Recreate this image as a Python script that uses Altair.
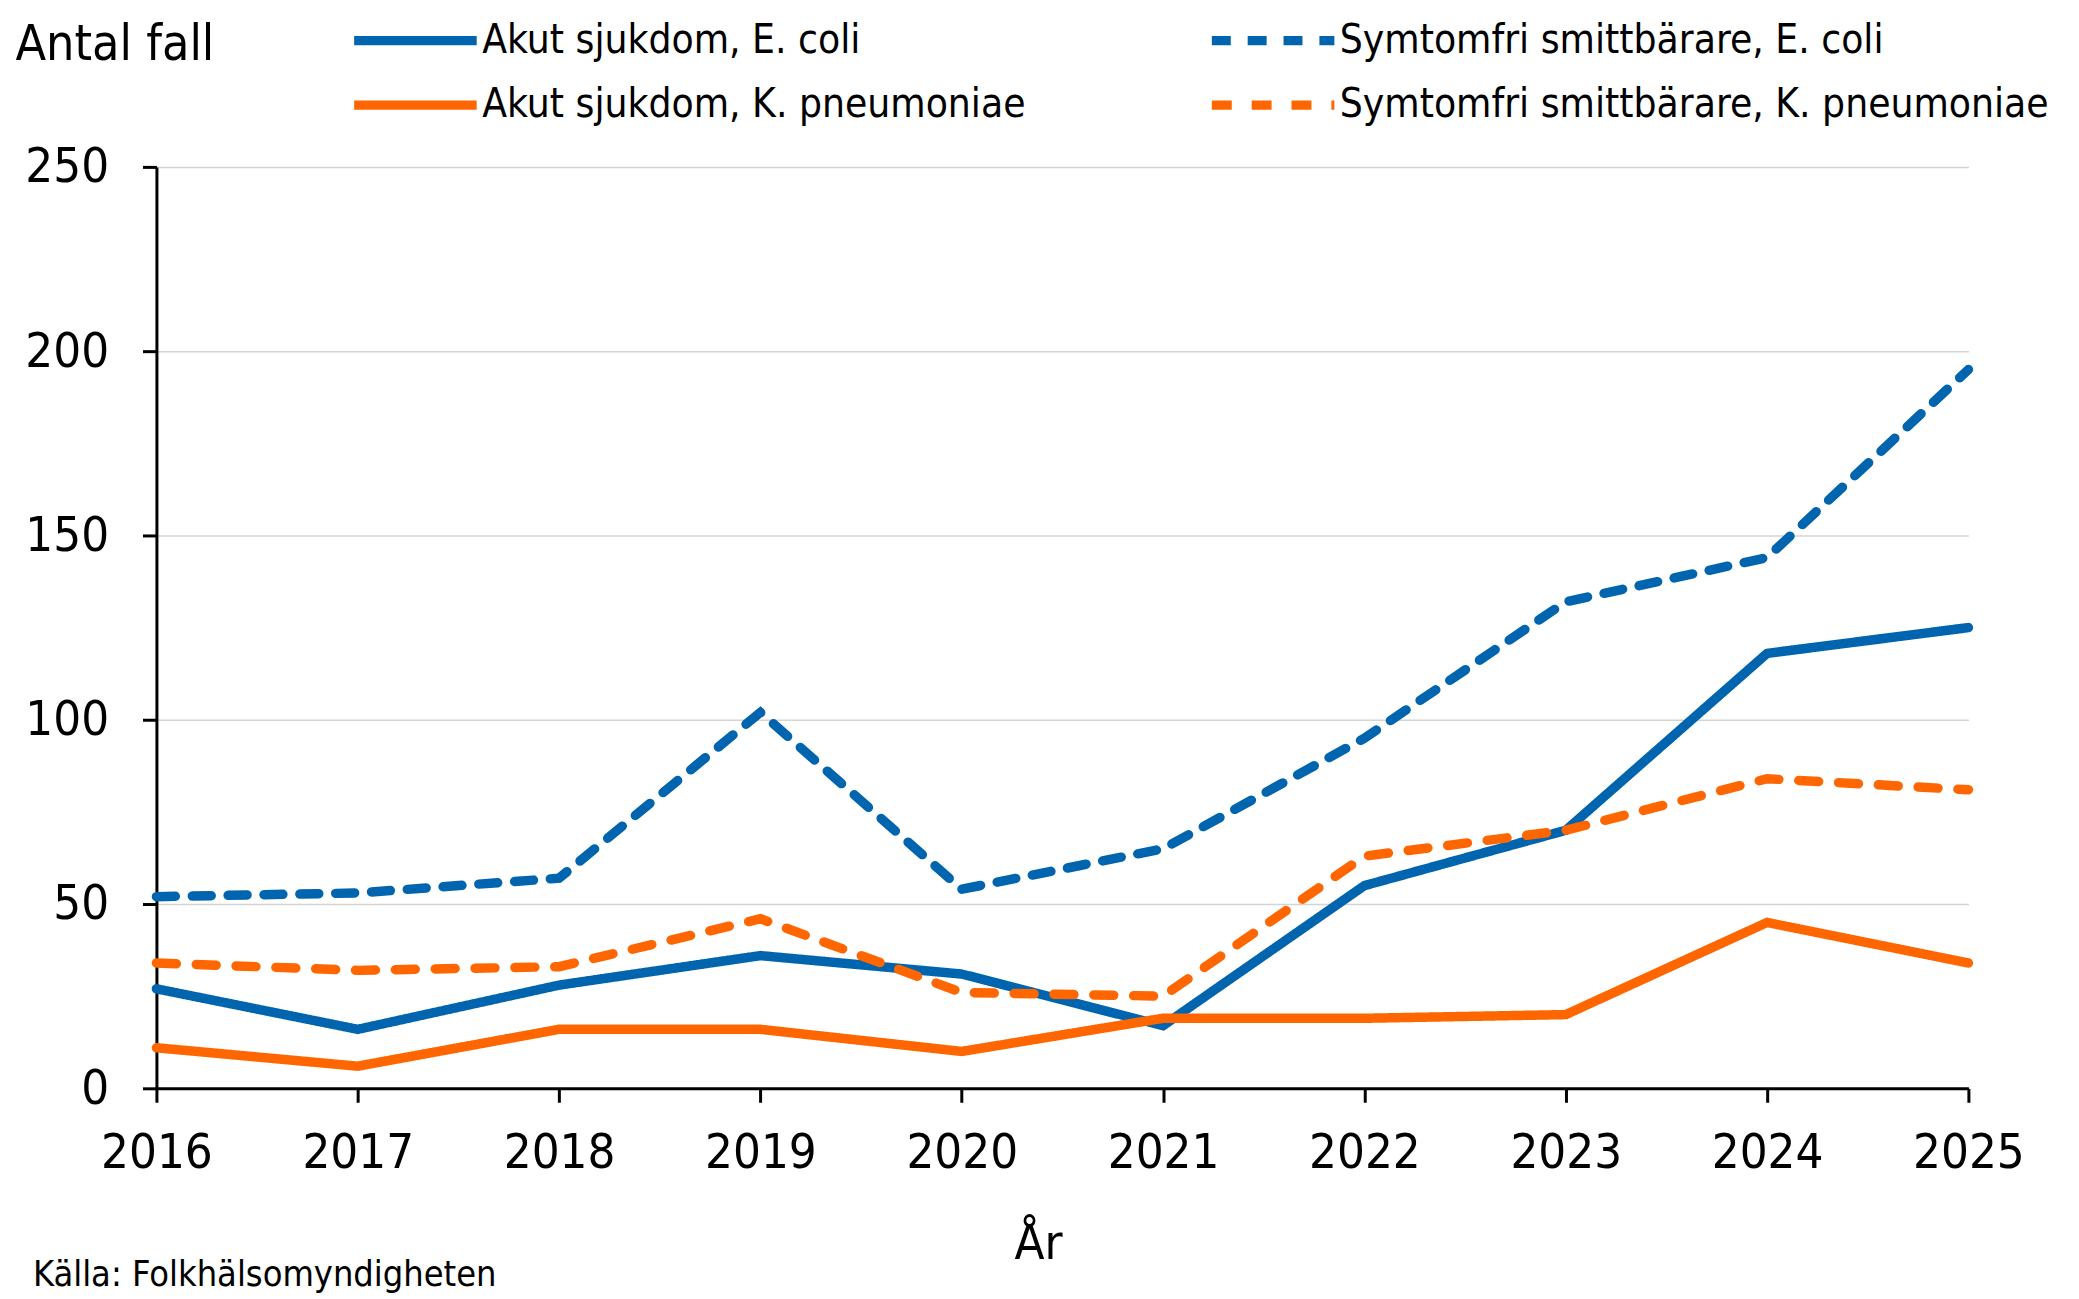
import altair as alt
import pandas as pd

years = [2016, 2017, 2018, 2019, 2020, 2021, 2022, 2023, 2024, 2025]
# legend order (column-major): col 1 = Akut, col 2 = Symtomfri
series_names = [
    "Akut sjukdom, E. coli",
    "Akut sjukdom, K. pneumoniae",
    "Symtomfri smittbärare, E. coli",
    "Symtomfri smittbärare, K. pneumoniae",
]
akut_ecoli = [27, 16, 28, 36, 31, 17, 55, 70, 118, 125]
akut_kpn = [11, 6, 16, 16, 10, 19, 19, 20, 45, 34]
symtomfri_ecoli = [52, 53, 57, 102, 54, 65, 95, 132, 144, 195]
symtomfri_kpn = [34, 32, 33, 46, 26, 25, 63, 70, 84, 81]
y_ticks = [0, 50, 100, 150, 200, 250]
source_text = "Källa: Folkhälsomyndigheten"

values = [akut_ecoli, akut_kpn, symtomfri_ecoli, symtomfri_kpn]
rows = []
for name, vals in zip(series_names, values):
    for yr, v in zip(years, vals):
        rows.append({"År": yr, "Antal fall": v, "Serie": name})
df = pd.DataFrame(rows)

BLUE = "#0064AF"
ORANGE = "#FF6600"
FONT = "DejaVu Sans Condensed, DejaVu Sans"

W, H = 1819, 925


def make_legend():
    return alt.Legend(
        title=None,
        orient="none",
        direction="vertical",
        legendX=216,
        legendY=-171,
        columns=2,
        columnPadding=167,
        rowPadding=0,
        padding=0,
        symbolType="M-1.567,0H1.567",
        symbolSize=6162,
        symbolStrokeWidth=9.5,
        symbolFillColor="transparent",
        labelFontSize=40.5,
        labelColor="black",
        labelOffset=23,
        labelLimit=1000,
    )


lines = alt.Chart(df).mark_line(strokeWidth=9.5, strokeCap="round").encode(
    x=alt.X(
        "År:Q",
        scale=alt.Scale(domain=[years[0], years[-1]], nice=False, zero=False),
        axis=alt.Axis(
            values=years,
            format="d",
            grid=False,
            labelFlush=False,
            domainColor="black",
            domainWidth=3,
            tickColor="black",
            tickWidth=3,
            tickSize=14,
            labelFontSize=49,
            labelPadding=26,
            labelColor="black",
            title="År",
            titleFontSize=49,
            titleFontWeight="normal",
            titleColor="black",
            titleX=885,
            titleY=156,
            titleAlign="center",
            titleBaseline="middle",
        ),
    ),
    y=alt.Y(
        "Antal fall:Q",
        scale=alt.Scale(domain=[0, 250], nice=False),
        axis=alt.Axis(
            values=y_ticks,
            grid=True,
            gridColor="#d4d4d4",
            gridWidth=1.5,
            domainColor="black",
            domainWidth=3,
            tickColor="black",
            tickWidth=3,
            tickSize=14,
            labelFontSize=49,
            labelPadding=34,
            labelColor="black",
            title="Antal fall",
            titleFontSize=50,
            titleFontWeight="normal",
            titleColor="black",
            titleAngle=0,
            titleX=-142,
            titleY=-108,
            titleAlign="left",
            titleBaseline="alphabetic",
        ),
    ),
    color=alt.Color(
        "Serie:N",
        scale=alt.Scale(domain=series_names, range=[BLUE, ORANGE, BLUE, ORANGE]),
        legend=make_legend(),
    ),
    strokeDash=alt.StrokeDash(
        "Serie:N",
        scale=alt.Scale(domain=series_names, range=[[1, 0], [1, 0], [19, 17], [20, 20]]),
        legend=make_legend(),
    ),
)

source = alt.Chart(pd.DataFrame({"t": [source_text]})).mark_text(
    align="left", baseline="middle", fontSize=36, color="black"
).encode(text="t:N", x=alt.value(-124), y=alt.value(1112))

chart = (
    alt.layer(lines, source)
    .properties(
        width=W,
        height=H,
        autosize=alt.AutoSizeParams(type="none"),
        padding={"left": 149, "top": 157, "right": 103, "bottom": 209},
    )
    .configure(font=FONT)
    .configure_view(stroke=None)
)

chart.save("out.html", embed_options={"renderer": "svg", "actions": False})
